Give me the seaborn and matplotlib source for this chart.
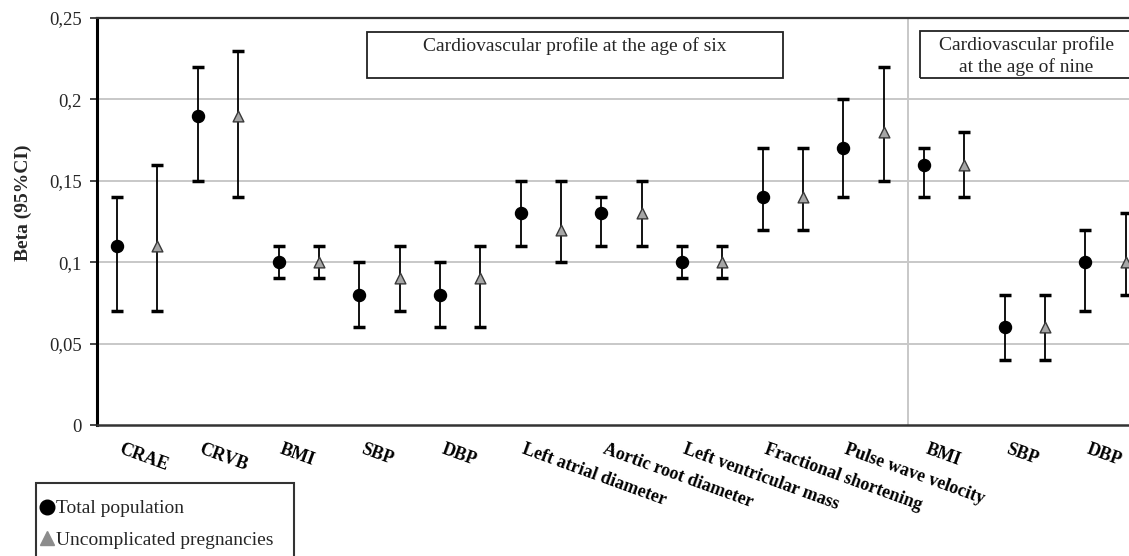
"""Beta (95%CI) of cardiovascular profile at six and nine years."""

import matplotlib

matplotlib.use("Agg")
import matplotlib.pyplot as plt
import matplotlib.transforms as mtransforms
import numpy as np
import pandas as pd
import seaborn as sns
from matplotlib.lines import Line2D
from matplotlib.patches import Rectangle

CATEGORIES = [
    "CRAE", "CRVB", "BMI", "SBP", "DBP",
    "Left atrial diameter", "Aortic root diameter", "Left ventricular mass",
    "Fractional shortening", "Pulse wave velocity",
    "BMI", "SBP", "DBP",
]
SERIES = ["Total population", "Uncomplicated pregnancies"]

TOTAL_BETA = [0.11, 0.19, 0.10, 0.08, 0.08, 0.13, 0.13, 0.10, 0.14, 0.17, 0.16, 0.06, 0.10]
TOTAL_LOW = [0.07, 0.15, 0.09, 0.06, 0.06, 0.11, 0.11, 0.09, 0.12, 0.14, 0.14, 0.04, 0.07]
TOTAL_HIGH = [0.14, 0.22, 0.11, 0.10, 0.10, 0.15, 0.14, 0.11, 0.17, 0.20, 0.17, 0.08, 0.12]

UNCOMP_BETA = [0.11, 0.19, 0.10, 0.09, 0.09, 0.12, 0.13, 0.10, 0.14, 0.18, 0.16, 0.06, 0.10]
UNCOMP_LOW = [0.07, 0.14, 0.09, 0.07, 0.06, 0.10, 0.11, 0.09, 0.12, 0.15, 0.14, 0.04, 0.08]
UNCOMP_HIGH = [0.16, 0.23, 0.11, 0.11, 0.11, 0.15, 0.15, 0.11, 0.17, 0.22, 0.18, 0.08, 0.13]

Y_TICKS = [0, 0.05, 0.1, 0.15, 0.2, 0.25]
Y_TICK_LABELS = ["0", "0,05", "0,1", "0,15", "0,2", "0,25"]

SIX_LABEL = "Cardiovascular profile at the age of six"
NINE_LABEL = "Cardiovascular profile\nat the age of nine"
N_SIX = 10  # first ten outcomes measured at six

SERIF = ["Liberation Serif", "DejaVu Serif"]
MARKERS = {"Total population": "o", "Uncomplicated pregnancies": "^"}
FACES = {"Total population": "black", "Uncomplicated pregnancies": "#a6a6a6"}
EDGES = {"Total population": "black", "Uncomplicated pregnancies": "#3a3a3a"}
LEGEND_FACES = {"Total population": "black", "Uncomplicated pregnancies": "#8c8c8c"}

sns.set_style("white")
plt.rcParams["font.family"] = SERIF

centers = np.arange(len(CATEGORIES)) + 0.5
frames = []
for name, beta, low, high, offset in [
    (SERIES[0], TOTAL_BETA, TOTAL_LOW, TOTAL_HIGH, -0.25),
    (SERIES[1], UNCOMP_BETA, UNCOMP_LOW, UNCOMP_HIGH, 0.25),
]:
    frames.append(pd.DataFrame({
        "series": name,
        "x": centers + offset,
        "beta": beta,
        "low": low,
        "high": high,
    }))
df = pd.concat(frames, ignore_index=True)

fig = plt.figure(figsize=(11.29, 5.56), dpi=100)
ax = fig.add_axes([0.0859, 0.2356, 0.929, 0.732])

for name, sub in df.groupby("series", sort=False):
    ax.errorbar(
        sub["x"], sub["beta"],
        yerr=[sub["beta"] - sub["low"], sub["high"] - sub["beta"]],
        fmt="none", ecolor="black", elinewidth=1.3, capsize=4.5, capthick=2.5, zorder=3,
    )
    sns.scatterplot(
        data=sub, x="x", y="beta", ax=ax, marker=MARKERS[name],
        color=FACES[name], edgecolor=EDGES[name], linewidth=1.0,
        s=75 if name == SERIES[0] else 60, zorder=4, legend=False,
    )

ax.set_xlim(0, len(CATEGORIES))
ax.set_ylim(0, 0.25)
ax.set_yticks(Y_TICKS)
ax.set_yticklabels(Y_TICK_LABELS, fontsize=13.5)
ax.set_xticks(centers)
ax.set_xticklabels([])
ax.tick_params(axis="x", length=0)
ax.tick_params(axis="y", length=5, width=1.2, direction="out", left=True, pad=6)
ax.set_xlabel("")
ax.set_ylabel("Beta (95%CI)", fontsize=14, fontweight="bold")
ax.yaxis.set_label_coords(-0.062, 0.545)

# category labels start just left of each tick and run down to the right
label_trans = ax.get_xaxis_transform() + mtransforms.ScaledTranslation(
    -21 / 100, -16 / 100, fig.dpi_scale_trans)
for xc, cat in zip(centers, CATEGORIES):
    ax.text(xc, 0, cat, transform=label_trans, rotation=-20, ha="left", va="top",
            fontsize=13, fontweight="bold", color="black", clip_on=False)

for y in Y_TICKS[1:-1]:
    ax.axhline(y, color="#c8c8c8", lw=1.4, zorder=1)
ax.axvline(N_SIX + 0.05, color="#c8c8c8", lw=1.4, zorder=1)

ax.spines["left"].set_linewidth(2.2)
ax.spines["left"].set_color("black")
ax.spines["bottom"].set_linewidth(1.8)
ax.spines["bottom"].set_color("#333333")
ax.spines["top"].set_linewidth(1.6)
ax.spines["top"].set_color("#333333")
ax.spines["right"].set_visible(False)

# panel boxes
ax.add_patch(Rectangle((3.35, 0.2132), 5.15, 0.0282, fill=False,
                       edgecolor="#222222", lw=1.3, zorder=5))
ax.text(5.92, 0.2382, SIX_LABEL, ha="center", va="top", fontsize=14, zorder=6)
ax.add_patch(Rectangle((10.2, 0.2132), 3.0, 0.0288, fill=False,
                       edgecolor="#222222", lw=1.3, zorder=5, clip_on=False))
ax.text(11.52, 0.2388, NINE_LABEL, ha="center", va="top", fontsize=14,
        linespacing=1.3, zorder=6)

# legend with a frame that runs off the bottom
fig.patches.append(Rectangle((0.032, -0.05), 0.228, 0.181, transform=fig.transFigure,
                             fill=False, edgecolor="#333333", lw=1.5))
handles = [
    Line2D([], [], ls="none", marker=MARKERS[s], markerfacecolor=LEGEND_FACES[s],
           markeredgecolor=LEGEND_FACES[s], markersize=10.5)
    for s in SERIES
]
fig.legend(handles, SERIES, loc="upper left", bbox_to_anchor=(0.0345, 0.101),
           frameon=False, fontsize=14, handlelength=0.8, handletextpad=0.1,
           labelspacing=0.72, borderpad=0.0, borderaxespad=0)

fig.savefig("out.png", dpi=100)
